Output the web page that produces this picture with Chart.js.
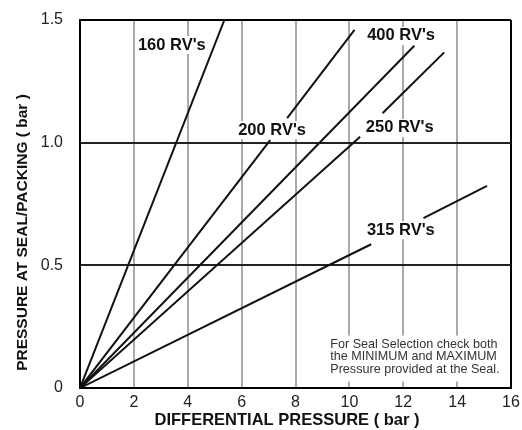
<!DOCTYPE html>
<html>
<head>
<meta charset="utf-8">
<script src="https://cdn.jsdelivr.net/npm/chart.js@4.4.1/dist/chart.umd.min.js"></script>
<style>
    html, body { margin: 0; padding: 0; background: #fff; }
    #wrap { width: 522px; height: 430px; position: relative; }
</style>
</head>
<body>
<div id="wrap"><canvas id="sealChart"></canvas></div>
<script>
// series (null = break in the line where the label sits)
const seriesNames = ["160 RV's", "200 RV's", "400 RV's", "250 RV's", "315 RV's"];
const rv160X = [0, 5.36];
const rv160Y = [0, 1.5];
const rv200X = [0, 7.06, 7.4, 7.69, 10.19];
const rv200Y = [0, 1.01, null, 1.10, 1.46];
const rv400X = [0, 12.41];
const rv400Y = [0, 1.395];
const rv250X = [0, 10.4, 10.8, 11.23, 13.52];
const rv250Y = [0, 1.024, null, 1.12, 1.368];
const rv315X = [0, 10.81, 11.8, 12.75, 15.11];
const rv315Y = [0, 0.586, null, 0.692, 0.824];

const xTickLabels = ['0', '2', '4', '6', '8', '10', '12', '14', '16'];
const yTickLabels = ['0', '0.5', '1.0', '1.5'];
const xTitle = 'DIFFERENTIAL PRESSURE ( bar )';
const yTitle = 'PRESSURE AT SEAL/PACKING ( bar )';
const noteLines = [
    'For Seal Selection check both',
    'the MINIMUM and MAXIMUM',
    'Pressure provided at the Seal.'
];

// where the series names sit, in axis units
const labelSpots = [[3.41, 1.398], [7.13, 1.051], [11.92, 1.435], [11.87, 1.06], [11.91, 0.643]];
const noteSpot = [9.29, 0.177];

const FONT = '"Liberation Sans", Arial, sans-serif';

function toPoints(xs, ys) {
    return xs.map((x, i) => ({ x: x, y: ys[i] }));
}

const lineSets = [
    [rv160X, rv160Y], [rv200X, rv200Y], [rv400X, rv400Y], [rv250X, rv250Y], [rv315X, rv315Y]
].map((s, i) => ({
    label: seriesNames[i],
    data: toPoints(s[0], s[1]),
    showLine: true,
    spanGaps: false,
    borderColor: '#111',
    borderWidth: 2,
    pointRadius: 0,
    fill: false
}));

const annotate = {
    id: 'annotate',
    beforeDatasetsDraw(chart) {
        const { ctx, scales: { x, y } } = chart;
        ctx.save();
        ctx.fillStyle = '#fff';
        ctx.font = 'bold 16.5px ' + FONT;
        seriesNames.forEach((name, i) => {
            const px = x.getPixelForValue(labelSpots[i][0]);
            const py = y.getPixelForValue(labelSpots[i][1]);
            const w = ctx.measureText(name).width;
            ctx.fillRect(px - w / 2 - 1, py - 9, w + 2, 18);
        });
        ctx.font = '12.6px ' + FONT;
        const nx = x.getPixelForValue(noteSpot[0]);
        const ny = y.getPixelForValue(noteSpot[1]);
        const nw = Math.max(...noteLines.map(t => ctx.measureText(t).width));
        ctx.fillRect(nx - 4, ny - 9, nw + 8, 46);
        ctx.restore();
    },
    afterDatasetsDraw(chart) {
        const { ctx, scales: { x, y } } = chart;
        ctx.save();
        ctx.fillStyle = '#111';
        ctx.textAlign = 'center';
        ctx.textBaseline = 'middle';
        ctx.font = 'bold 16.5px ' + FONT;
        seriesNames.forEach((name, i) => {
            ctx.fillText(name, x.getPixelForValue(labelSpots[i][0]), y.getPixelForValue(labelSpots[i][1]));
        });
        ctx.font = '12.6px ' + FONT;
        ctx.textAlign = 'left';
        ctx.fillStyle = '#333';
        const nx = x.getPixelForValue(noteSpot[0]);
        const ny = y.getPixelForValue(noteSpot[1]);
        noteLines.forEach((t, i) => ctx.fillText(t, nx, ny + i * 12.4));
        ctx.restore();
    },
    afterDraw(chart) {
        const { ctx, chartArea } = chart;
        ctx.save();
        ctx.fillStyle = '#111';
        ctx.textAlign = 'center';
        ctx.textBaseline = 'middle';
        ctx.font = 'bold 16.5px ' + FONT;
        ctx.fillText(xTitle, chartArea.left + 207, chartArea.bottom + 32);
        ctx.font = 'bold 15.5px ' + FONT;
        ctx.translate(22.5, chartArea.top + 212.5);
        ctx.rotate(-Math.PI / 2);
        ctx.fillText(yTitle, 0, 0);
        ctx.restore();
    }
};

new Chart(document.getElementById('sealChart'), {
    type: 'scatter',
    data: { datasets: lineSets },
    plugins: [annotate],
    options: {
        responsive: true,
        maintainAspectRatio: false,
        animation: false,
        layout: { padding: { top: 20, right: 11, left: 0, bottom: 0 } },
        plugins: { legend: { display: false }, tooltip: { enabled: false } },
        scales: {
            x: {
                type: 'linear',
                min: 0,
                max: 16,
                afterFit: scale => {
                    scale.height = 42;
                    scale.paddingLeft = 0;
                    scale.paddingRight = 0;
                },
                border: { display: true, color: '#000', width: 2 },
                grid: {
                    drawTicks: false,
                    lineWidth: 2,
                    color: ctx => ctx.tick && ctx.tick.value === 16 ? '#000' : '#aaa'
                },
                ticks: {
                    stepSize: 2,
                    padding: 5,
                    color: '#222',
                    font: { family: FONT, size: 16 },
                    maxRotation: 0,
                    callback: value => xTickLabels[Math.round(value / 2)]
                }
            },
            y: {
                type: 'linear',
                min: 0,
                max: 1.5,
                afterFit: scale => {
                    scale.width = 80;
                    scale.paddingTop = 0;
                    scale.paddingBottom = 0;
                },
                border: { display: true, color: '#000', width: 2 },
                grid: {
                    drawTicks: false,
                    lineWidth: 2,
                    color: ctx => ctx.tick && ctx.tick.value === 1.5 ? '#000' : '#222'
                },
                ticks: {
                    stepSize: 0.5,
                    padding: 17,
                    color: '#222',
                    font: { family: FONT, size: 16 },
                    callback: value => yTickLabels[Math.round(value / 0.5)]
                }
            }
        }
    }
});
</script>
</body>
</html>
